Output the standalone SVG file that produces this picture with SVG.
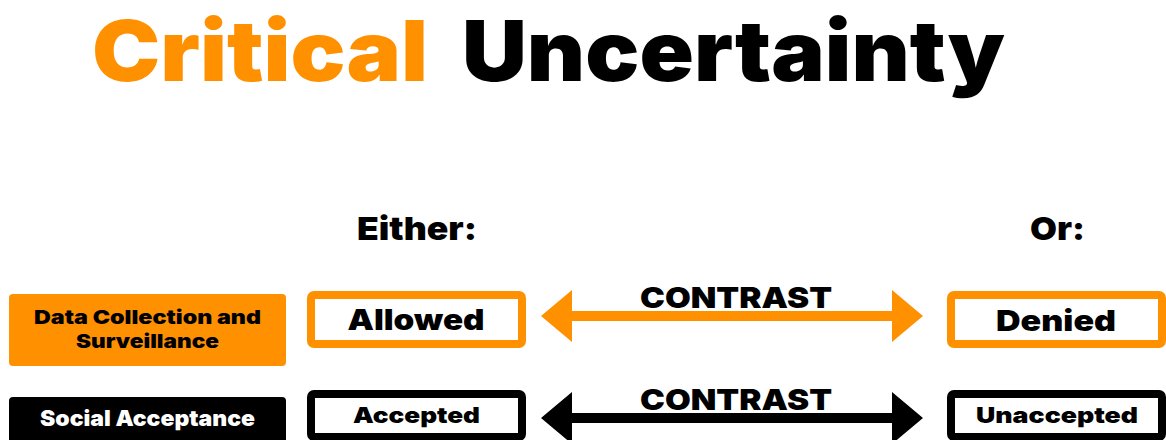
<svg xmlns="http://www.w3.org/2000/svg" width="1166" height="440" viewBox="0 0 1166 440">
<defs>
<style>
text { font-family: "Inter", "Liberation Sans", "DejaVu Sans", sans-serif; font-weight: 900; }
.title { font-size: 84px; }
.head { font-size: 32px; fill: #000; }
.lbl { font-size: 29px; fill: #000; text-anchor: middle; }
.small { font-size: 22px; fill: #000; text-anchor: middle; }
.small.inv { fill: #fff; }
.rowlbl { font-size: 19px; fill: #000; text-anchor: middle; }
.obox { fill: #fff; stroke: #FF9100; stroke-width: 8; }
.bbox { fill: #fff; stroke: #000; stroke-width: 8; }
.org { fill: #FF9100; }
</style>
</defs>
<rect width="1166" height="440" fill="#fff"/>
<g id="title">
<text class="title" x="92" y="81" fill="#FF9100" textLength="336" lengthAdjust="spacingAndGlyphs">Critical</text>
<text class="title" x="462" y="81" fill="#000" textLength="543" lengthAdjust="spacingAndGlyphs">Uncertainty</text>
</g>
<g id="either"><text class="head" x="357" y="240" textLength="120" lengthAdjust="spacingAndGlyphs">Either:</text></g>
<g id="or"><text class="head" x="1030" y="240" textLength="55" lengthAdjust="spacingAndGlyphs">Or:</text></g>

<g id="row1-label">
<rect x="9" y="294" width="277" height="72" rx="4" class="org"/>
<text class="rowlbl" x="147.5" y="324" textLength="227" lengthAdjust="spacingAndGlyphs">Data Collection and</text>
<text class="rowlbl" x="147.5" y="348" textLength="143" lengthAdjust="spacingAndGlyphs">Surveillance</text>
</g>
<g id="allowed">
<rect x="311" y="295" width="211" height="49" rx="3" class="obox"/>
<text class="lbl" x="416" y="330" textLength="137" lengthAdjust="spacingAndGlyphs">Allowed</text>
</g>
<g id="denied">
<rect x="951" y="295" width="211" height="49" rx="3" class="obox"/>
<text class="lbl" x="1056" y="331" textLength="120" lengthAdjust="spacingAndGlyphs">Denied</text>
</g>

<g id="row2-label">
<rect x="9" y="397" width="277" height="50" rx="4" fill="#000"/>
<text class="small inv" x="147.5" y="426" textLength="215" lengthAdjust="spacingAndGlyphs">Social Acceptance</text>
</g>
<g id="accepted">
<rect x="311" y="394" width="211" height="43" rx="3" class="bbox"/>
<text class="small" x="416.5" y="423" textLength="127" lengthAdjust="spacingAndGlyphs">Accepted</text>
</g>
<g id="unaccepted">
<rect x="951" y="394" width="211" height="43" rx="3" class="bbox"/>
<text class="small" x="1057" y="423" textLength="162" lengthAdjust="spacingAndGlyphs">Unaccepted</text>
</g>

<g id="connectors">
<path d="M541,316 L572,290 L572,311 L892,311 L892,290 L923,316 L892,342 L892,321 L572,321 L572,342 Z" class="org"/>
<text class="lbl" x="736" y="308" textLength="192" lengthAdjust="spacingAndGlyphs">CONTRAST</text>
<path d="M541,418 L572,392 L572,413 L892,413 L892,392 L923,418 L892,444 L892,423 L572,423 L572,444 Z" fill="#000"/>
<text class="lbl" x="736" y="410" textLength="192" lengthAdjust="spacingAndGlyphs">CONTRAST</text>
</g>
</svg>
